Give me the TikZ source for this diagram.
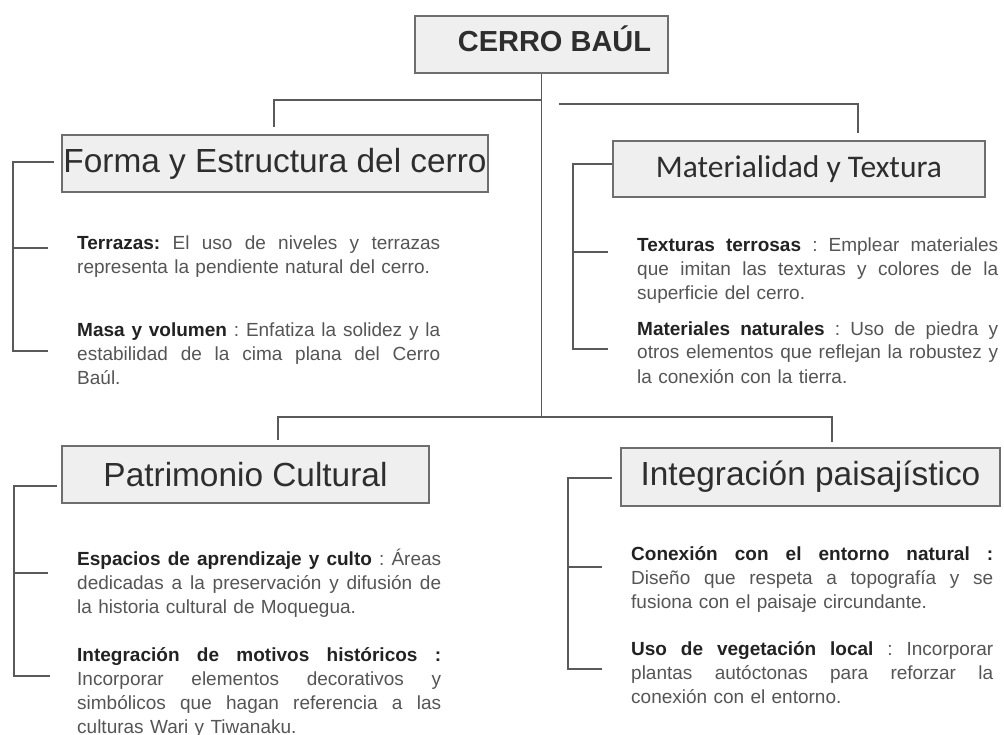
\documentclass[tikz,border=0pt]{standalone}
\usepackage{fontspec}
\setmainfont{Liberation Sans}
\newfontfamily\calibfont{Carlito}
\usetikzlibrary{calc}
\definecolor{boxfill}{HTML}{EFEFEF}
\definecolor{boxdraw}{HTML}{6E6E6E}
\definecolor{linec}{HTML}{5A5A5A}
\definecolor{headc}{HTML}{2E2E2E}
\definecolor{bodyc}{HTML}{555555}
\definecolor{lblc}{HTML}{222222}
\newcommand{\lbl}[1]{{\color{lblc}\bfseries #1}}
\newcommand{\jl}[2]{\makebox[#1][s]{\spaceskip=0.278em plus 1fil\relax\xspaceskip=\spaceskip #2}}
\begin{document}
\begin{tikzpicture}[x=1pt,y=-1pt,
  headbox/.style={draw=boxdraw,fill=boxfill,line width=1.2pt,inner sep=0pt,text=headc},
  headfont/.style={font=\fontsize{33.4}{38}\selectfont},
  body/.style={anchor=base west,inner sep=0pt,text=bodyc,font=\fontsize{19}{24}\selectfont},
  conn/.style={draw=linec,line width=1.1pt},
]
\fill[white] (0,0) rectangle (1004,735);
\useasboundingbox (0,0) rectangle (1004,735);

% heading boxes
\node[headbox,minimum width=253pt,minimum height=57pt,text height=21pt,text depth=7pt,
      font=\fontsize{29}{34}\selectfont\bfseries] (root) at (541.5,44.5) {\hspace*{26pt}CERRO BAÚL};
\node[headbox,headfont,minimum width=426pt,minimum height=57pt] (forma) at (275,163.5) {Forma y Estructura del cerro};
\node[headbox,minimum width=372pt,minimum height=56pt,font=\calibfont\fontsize{31.5}{36}\selectfont] (mat) at (799,169) {Materialidad y Textura};
\node[headbox,headfont,minimum width=367pt,minimum height=57pt] (pat) at (245.5,474.5) {Patrimonio Cultural};
\node[headbox,headfont,minimum width=379pt,minimum height=58pt] (integ) at (810.5,477) {Integración paisajístico};

% body texts
\node[body,text width=363pt] (t1) at (77,250) {\jl{363pt}{\lbl{Terrazas:} El uso de niveles y terrazas}\\
  representa la pendiente natural del cerro.};
\node[body,text width=363pt] (t2) at (77,337) {\jl{363pt}{\lbl{Masa y volumen} : Enfatiza la solidez y la}\\
  \jl{363pt}{estabilidad de la cima plana del Cerro}\\ Baúl.};
\node[body,text width=361pt] (m1) at (637,252) {\jl{361pt}{\lbl{Texturas terrosas} : Emplear materiales}\\
  \jl{361pt}{que imitan las texturas y colores de la}\\ superficie del cerro.};
\node[body,text width=361pt] (m2) at (637,335) {\jl{361pt}{\lbl{Materiales naturales} : Uso de piedra y}\\
  \jl{361pt}{otros elementos que reflejan la robustez y}\\ la conexión con la tierra.};
\node[body,text width=364pt] (p1) at (77,565) {\jl{364pt}{\lbl{Espacios de aprendizaje y culto} : Áreas}\\
  \jl{364pt}{dedicadas a la preservación y difusión de}\\ la historia cultural de Moquegua.};
\node[body,text width=364pt] (p2) at (77,661) {\jl{364pt}{\lbl{Integración de motivos históricos :}}\\
  \jl{364pt}{Incorporar elementos decorativos y}\\
  \jl{364pt}{simbólicos que hagan referencia a las}\\ culturas Wari y Tiwanaku.};
\node[body,text width=362pt] (i1) at (631,560) {\jl{362pt}{\lbl{Conexión con el entorno natural :}}\\
  \jl{362pt}{Diseño que respeta a topografía y se}\\ fusiona con el paisaje circundante.};
\node[body,text width=362pt] (i2) at (631,655) {\jl{362pt}{\lbl{Uso de vegetación local} : Incorporar}\\
  \jl{362pt}{plantas autóctonas para reforzar la}\\ conexión con el entorno.};

% tree coordinates
\coordinate (j1) at (541.5,100);
\coordinate (j2) at (541.5,417);
\coordinate (fl) at (274,127);
\coordinate (rs) at (559,104);
\coordinate (mr) at (858,133);
\coordinate (pl) at (278,440);
\coordinate (ir) at (832,442);

\draw[conn] (root.south) -- (j2);
\draw[conn] (j1) -| (fl);
\draw[conn] (rs) -| (mr);
\draw[conn] (pl) |- (j2) -| (ir);

% brackets: vertical x and tick ends
\coordinate (fv) at (13,0);
\coordinate (fm) at (48,248);
\coordinate (fb) at (48,351);
\draw[conn] ([xshift=-7pt,yshift=1.5pt]forma.west) -| (fv |- fb) -- (fb);
\draw[conn] (fv |- fm) -- (fm);

\coordinate (mv) at (573,0);
\coordinate (mm) at (608,252);
\coordinate (mb) at (608,349);
\draw[conn] ([yshift=5pt]mat.west) -| (mv |- mb) -- (mb);
\draw[conn] (mv |- mm) -- (mm);

\coordinate (pv) at (14,0);
\coordinate (pm) at (48,573);
\coordinate (pb) at (50,676);
\draw[conn] ([xshift=-4pt,yshift=-11.5pt]pat.west) -| (pv |- pb) -- (pb);
\draw[conn] (pv |- pm) -- (pm);

\coordinate (iv) at (568,0);
\coordinate (im) at (602,567);
\coordinate (ib) at (602,669);
\draw[conn] ([xshift=-8pt,yshift=-1pt]integ.west) -| (iv |- ib) -- (ib);
\draw[conn] (iv |- im) -- (im);
\end{tikzpicture}
\end{document}
